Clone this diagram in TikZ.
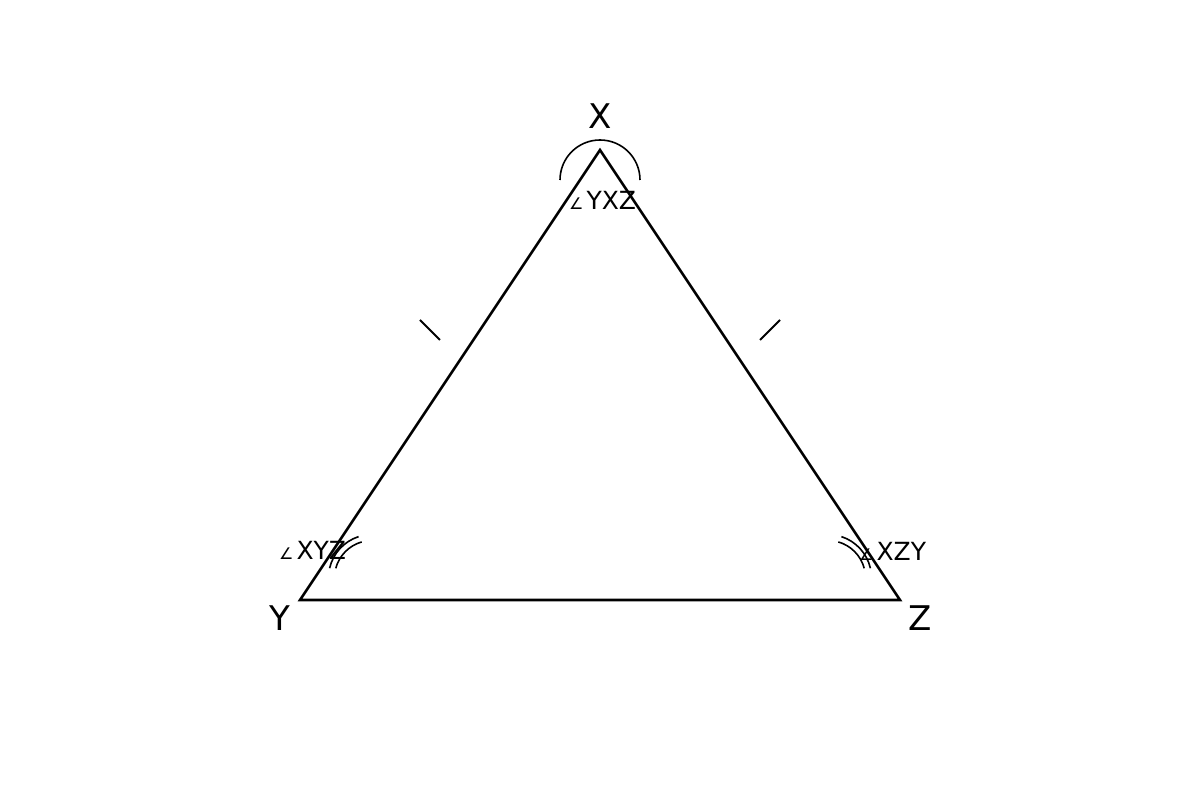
\documentclass[tikz,border=0pt]{standalone}
\usepackage{fontspec}
\setmainfont{DejaVu Sans}
\newcommand{\angsym}{{\fontsize{16}{16}\selectfont ∠}\hspace{3pt}}
\begin{document}
\begin{tikzpicture}[x=1pt,y=1pt,
  side/.style={line width=2.6pt},
  anglearc/.style={line width=1.6pt},
  tick/.style={line width=1.8pt},
  vlabel/.style={font=\fontsize{34}{34}\selectfont, inner sep=0pt, anchor=base},
  alabel/.style={font=\fontsize{25}{25}\selectfont, inner sep=0pt, anchor=base west}]
\useasboundingbox (0,0) rectangle (1200,800);
\coordinate (X) at (600,650);
\coordinate (Y) at (300,200);
\coordinate (Z) at (900,200);
\draw[side] (X) -- (Y) -- (Z) -- cycle;
% angle arcs
\coordinate (cX) at (600,620);
\draw[anglearc] ([shift={(180:40)}]cX) arc[start angle=180, end angle=0, radius=40];
\coordinate (cY) at (372,222);
\draw[anglearc] ([shift={(108:43.5)}]cY) arc[start angle=108, end angle=167, radius=43.5];
\draw[anglearc] ([shift={(106:37.5)}]cY) arc[start angle=106, end angle=165, radius=37.5];
\coordinate (cZ) at (828,222);
\draw[anglearc] ([shift={(13:43.5)}]cZ) arc[start angle=13, end angle=72, radius=43.5];
\draw[anglearc] ([shift={(15:37.5)}]cZ) arc[start angle=15, end angle=74, radius=37.5];
% tick marks
\coordinate (t1a) at (420,480); \coordinate (t1b) at (440,460);
\coordinate (t2a) at (760,460); \coordinate (t2b) at (780,480);
\draw[tick] (t1a) -- (t1b);
\draw[tick] (t2a) -- (t2b);
% labels
\node[vlabel] (lX) at (600,671) {X};
\node[vlabel] (lY) at (280,169) {Y};
\node[vlabel] (lZ) at (920,169) {Z};
\node[alabel] (aX) at (569,590) {\angsym YXZ};
\node[alabel] (aY) at (279,240) {\angsym XYZ};
\node[alabel] (aZ) at (859,239) {\angsym XZY};
\end{tikzpicture}
\end{document}
